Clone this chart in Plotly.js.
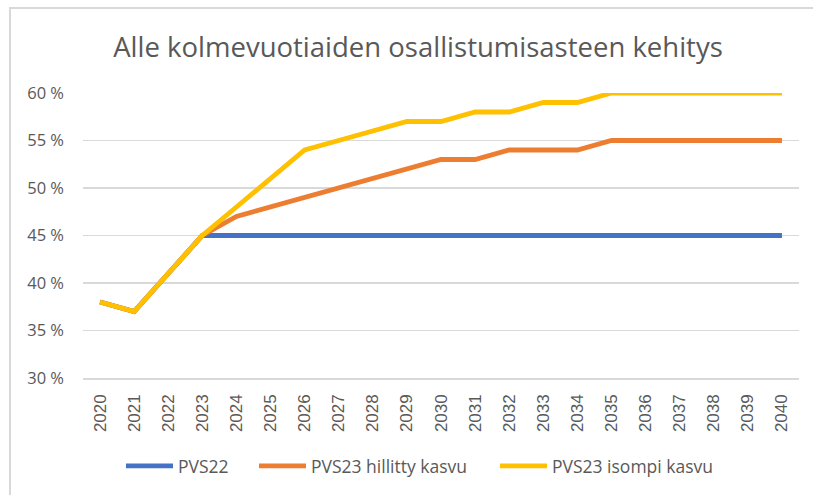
<!DOCTYPE html>
<html>
<head>
<meta charset="utf-8">
<script src="https://cdn.plot.ly/plotly-3.0.1.min.js"></script>
<style>
html,body{margin:0;padding:0;background:#fff;}
#wrap{position:relative;width:813px;height:495px;overflow:hidden;}
#chart{position:absolute;left:0;top:0;width:813px;height:495px;}
#frame{position:absolute;left:9px;top:7px;width:900px;height:600px;border-left:2px solid #d9d9d9;border-top:2px solid #d9d9d9;pointer-events:none;}
</style>
</head>
<body>
<div id="wrap"><div id="chart"></div><div id="frame"></div></div>
<script>
const years = ["2020","2021","2022","2023","2024","2025","2026","2027","2028","2029","2030",
               "2031","2032","2033","2034","2035","2036","2037","2038","2039","2040"];
const pvs22 =    [38,37,41,45,45,45,45,45,45,45,45,45,45,45,45,45,45,45,45,45,45];
const hillitty = [38,37,41,45,47,48,49,50,51,52,53,53,54,54,54,55,55,55,55,55,55];
const isompi =   [38,37,41,45,48,51,54,55,56,57,57,58,58,59,59,60,60,60,60,60,60];
const seriesNames = ["PVS22","PVS23 hillitty kasvu","PVS23 isompi kasvu"];
const titleText = "Alle kolmevuotiaiden osallistumisasteen kehitys";

const colors = ["#4472C4","#ED7D31","#FFC000"];
const legendIds = ["legend","legend2","legend3"];
const legendX = [121, 254, 495];
const txt = "#595959";
const traces = [pvs22, hillitty, isompi].map((v,i)=>({
  x: years, y: v, type: "scatter", mode: "lines", name: seriesNames[i],
  legend: legendIds[i],
  line: {color: colors[i], width: 4.8, shape: "linear"}, hoverinfo: "skip"
}));

function leg(i){
  return {orientation: "h", xref: "container", yref: "container",
          x: legendX[i]/813, xanchor: "left", y: 1-466/495, yanchor: "middle",
          font: {family: "Open Sans", size: 17.5, color: txt}, itemwidth: 47,
          bgcolor: "rgba(0,0,0,0)", borderwidth: 0};
}

const layout = {
  width: 813, height: 495,
  margin: {l: 83, r: 14, t: 93, b: 117},
  paper_bgcolor: "#fff", plot_bgcolor: "#fff",
  title: {text: titleText, x: 418/813, xref: "container", xanchor: "center",
          y: 1-47/495, yref: "container", yanchor: "middle",
          font: {family: "Open Sans", size: 27.5, color: txt}},
  xaxis: {type: "category", tickangle: -90, showgrid: false, zeroline: false,
          showline: true, linecolor: "#d9d9d9", linewidth: 1.5, ticks: "",
          ticklabelstandoff: 8, range: [-0.5, 20.5],
          tickfont: {family: "Liberation Sans", size: 17, color: txt}},
  yaxis: {range: [30, 60], dtick: 5, tick0: 30, ticksuffix: " %", showgrid: true,
          gridcolor: "#d9d9d9", gridwidth: 1.5, zeroline: false, showline: false, ticks: "",
          ticklabelstandoff: 18,
          tickfont: {family: "Open Sans", size: 16.5, color: txt}},
  showlegend: true,
  legend: leg(0), legend2: leg(1), legend3: leg(2)
};
Plotly.newPlot("chart", traces, layout, {staticPlot: true});
</script>
</body>
</html>
